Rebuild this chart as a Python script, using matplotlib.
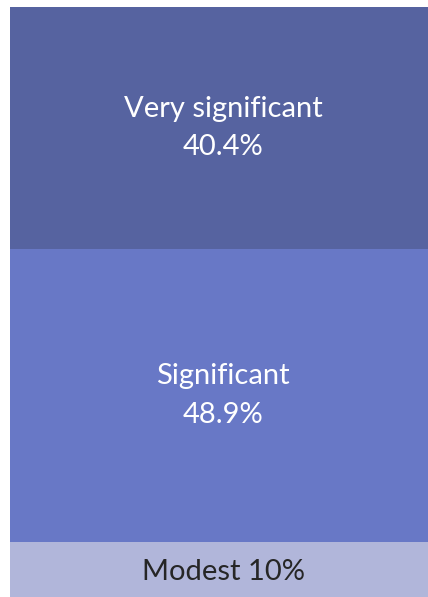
import matplotlib.pyplot as plt

# Stacked single bar, bottom to top
categories = ["Modest", "Significant", "Very significant"]
values = [10, 48.9, 40.4]
labels = ["Modest 10%", "Significant\n48.9%", "Very significant\n40.4%"]
colors = ["#B1B6DA", "#6878C6", "#5663A0"]
text_colors = ["#262626", "white", "white"]

plt.rcParams['font.family'] = ['Lato', 'DejaVu Sans']

fig = plt.figure(figsize=(4.28, 5.97), dpi=100)
ax = fig.add_axes([0, 0, 1, 1])

bottom = 0
for cat, val, lab, col, tc in zip(categories, values, labels, colors, text_colors):
    ax.bar(0.5, val, width=1.0, bottom=bottom, color=col, align='center')
    ax.text(0.51, bottom + val / 2, lab, ha='center', va='center',
            color=tc, fontsize=21, linespacing=1.6)
    bottom += val

ax.set_xlim(-0.024, 1.0)
ax.set_ylim(0.8, 100.47)
ax.axis('off')

fig.savefig("out.png", dpi=100)
